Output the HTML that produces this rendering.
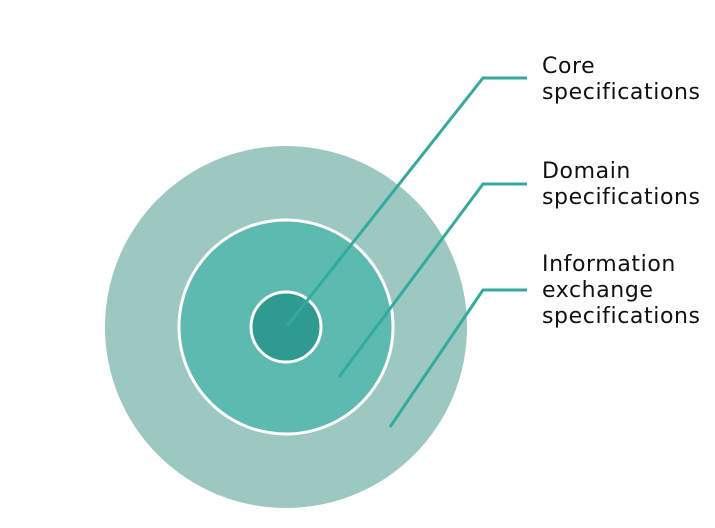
<!DOCTYPE html>
<html><head><meta charset="utf-8"><style>
html,body{margin:0;padding:0;background:#fff;}
svg{display:block;}
text{font-family:"DejaVu Sans","Liberation Sans",sans-serif;font-size:22px;fill:#111;letter-spacing:0.6px;}
</style></head><body>
<svg width="715" height="528" viewBox="0 0 715 528" xmlns="http://www.w3.org/2000/svg">
<circle cx="286" cy="327" r="181" fill="#9dc8c2"/>
<circle cx="286" cy="327" r="107" fill="#5cbab0" stroke="#fff" stroke-width="3"/>
<circle cx="286" cy="327" r="35" fill="#2e9a90" stroke="#fff" stroke-width="3"/>
<g fill="none" stroke="#34aa9e" stroke-width="3">
<polyline points="287,326 483,78 527,78"/>
<polyline points="339,377 483,184 527,184"/>
<polyline points="390,427 483,290 527,290"/>
</g>
<text x="542" y="73">Core</text>
<text x="542" y="99">specifications</text>
<text x="542" y="178">Domain</text>
<text x="542" y="204">specifications</text>
<text x="542" y="271">Information</text>
<text x="542" y="297">exchange</text>
<text x="542" y="323">specifications</text>
</svg>
</body></html>
